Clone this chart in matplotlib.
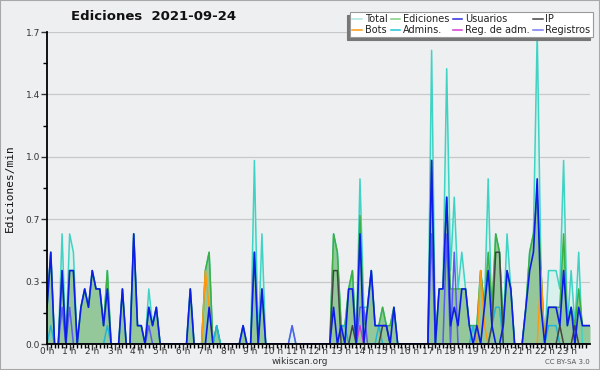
import matplotlib
matplotlib.use("Agg")
import matplotlib.pyplot as plt
import numpy as np
from matplotlib.patches import Rectangle

# ediciones/min por tramo de 10 minutos, una fila por hora
total = [
    0.2, 0.5, 0, 0, 0.6, 0,
    0.6, 0.5, 0, 0.2, 0.3, 0.2,
    0.4, 0.3, 0.3, 0.1, 0.4, 0,
    0, 0, 0.3, 0, 0, 0.6,
    0.1, 0.1, 0, 0.3, 0.1, 0.2,
    0, 0, 0, 0, 0, 0,
    0, 0, 0.3, 0, 0, 0,
    0.4, 0.5, 0, 0.1, 0, 0,
    0, 0, 0, 0, 0.1, 0,
    0, 1.0, 0, 0.6, 0, 0,
    0, 0, 0, 0, 0, 0.1,
    0, 0, 0, 0, 0, 0,
    0, 0, 0, 0, 0.6, 0.5,
    0.1, 0.1, 0.3, 0.4, 0, 0.9,
    0.2, 0.2, 0.4, 0.1, 0.1, 0.2,
    0.1, 0.1, 0.2, 0, 0, 0,
    0, 0, 0, 0, 0, 0,
    1.6, 0, 0.3, 0.3, 1.5, 0.4,
    0.8, 0.3, 0.5, 0.3, 0.1, 0.1,
    0.1, 0.4, 0.2, 0.9, 0.1, 0.6,
    0.5, 0.1, 0.6, 0.3, 0, 0,
    0, 0.2, 0.5, 0.6, 1.7, 0.4,
    0, 0.4, 0.4, 0.4, 0.3, 1.0,
    0.1, 0.4, 0.1, 0.5, 0, 0,
]

ediciones = [
    0.2, 0.5, 0, 0, 0.4, 0,
    0.4, 0.4, 0, 0.2, 0.3, 0.2,
    0.4, 0.3, 0.3, 0.1, 0.4, 0,
    0, 0, 0.3, 0, 0, 0.6,
    0.1, 0.1, 0, 0.2, 0.1, 0.2,
    0, 0, 0, 0, 0, 0,
    0, 0, 0.3, 0, 0, 0,
    0.4, 0.5, 0, 0.1, 0, 0,
    0, 0, 0, 0, 0.1, 0,
    0, 0.5, 0, 0.3, 0, 0,
    0, 0, 0, 0, 0, 0,
    0, 0, 0, 0, 0, 0,
    0, 0, 0, 0, 0.6, 0.5,
    0.1, 0.1, 0.3, 0.4, 0, 0.7,
    0.1, 0.2, 0.4, 0.1, 0.1, 0.2,
    0.1, 0.1, 0.2, 0, 0, 0,
    0, 0, 0, 0, 0, 0,
    1.0, 0, 0.3, 0.3, 0.8, 0.3,
    0.3, 0.3, 0.3, 0.3, 0.1, 0.1,
    0.1, 0.4, 0.2, 0.5, 0.2, 0.6,
    0.5, 0.1, 0.4, 0.3, 0, 0,
    0, 0.2, 0.5, 0.6, 0.8, 0.4,
    0, 0.2, 0.2, 0.2, 0.2, 0.6,
    0.1, 0.2, 0.1, 0.3, 0.1, 0.1,
]

usuarios = [
    0.2, 0.5, 0, 0, 0.4, 0,
    0.4, 0.4, 0, 0.2, 0.3, 0.2,
    0.4, 0.3, 0.3, 0.1, 0.3, 0,
    0, 0, 0.3, 0, 0, 0.6,
    0.1, 0.1, 0, 0.2, 0.1, 0.2,
    0, 0, 0, 0, 0, 0,
    0, 0, 0.3, 0, 0, 0,
    0, 0.2, 0, 0, 0, 0,
    0, 0, 0, 0, 0.1, 0,
    0, 0.5, 0, 0.3, 0, 0,
    0, 0, 0, 0, 0, 0,
    0, 0, 0, 0, 0, 0,
    0, 0, 0, 0, 0.2, 0,
    0.1, 0, 0.3, 0.3, 0, 0.6,
    0, 0.2, 0.4, 0.1, 0.1, 0.1,
    0.1, 0, 0.2, 0, 0, 0,
    0, 0, 0, 0, 0, 0,
    1.0, 0, 0.3, 0.3, 0.8, 0.1,
    0.2, 0.1, 0.3, 0.3, 0.1, 0,
    0.1, 0, 0.2, 0.4, 0.1, 0,
    0, 0.1, 0.4, 0.3, 0, 0,
    0, 0.2, 0.4, 0.5, 0.9, 0.2,
    0, 0.2, 0.2, 0.2, 0.1, 0.4,
    0.1, 0.2, 0, 0.2, 0.1, 0.1,
]

# series con pocos valores: indice del tramo y valor
ip_idx = [76, 77, 81, 89, 90, 118, 119, 120, 136, 140]
ip_val = [0.4, 0.4, 0.1, 0.1, 0.1, 0.1, 0.5, 0.5, 0.1, 0.1]
bots_idx = [42, 43, 115, 116, 131]
bots_val = [0.4, 0.2, 0.4, 0.1, 0.4]
admins_idx = [1, 16, 45, 78, 79, 88, 113, 118, 119, 120, 133, 134, 135]
admins_val = [0.1, 0.1, 0.1, 0.1, 0.1, 0.1, 0.1, 0.1, 0.2, 0.2, 0.1, 0.1, 0.1]
regadm_idx = [83]
regadm_val = [0.1]
registros_idx = [4, 6, 27, 65, 83, 84, 102, 106, 108]
registros_val = [0.2, 0.2, 0.1, 0.1, 0.2, 0.2, 0.6, 0.6, 0.5]

horas = [f"{h} h" for h in range(24)]


def completar(idx, val):
    s = np.zeros(144)
    s[idx] = val
    return s


def alargar(s):
    # repite el ultimo tramo hasta las 24 h
    s = np.asarray(s, dtype=float)
    return np.append(s, s[-1])


x = np.arange(145) / 6
fondo = "#eeeff1"

fig = plt.figure(figsize=(6, 3.7), dpi=100, facecolor=fondo)
ax = fig.add_axes([47 / 600, 1 - 344 / 370, 543 / 600, 312 / 370])
ax.set_facecolor(fondo)

t = alargar(total)
e = alargar(ediciones)
ax.fill_between(x, t, color="#d9f1ec", lw=0, zorder=1)
ax.fill_between(x, e, color="#94c89a", lw=0, zorder=1.2)
ax.plot(x, t, color="#3ed3c3", lw=1.1, zorder=2)
ax.plot(x, e, color="#3cb043", lw=1.1, zorder=2.1)
ax.plot(x, alargar(completar(admins_idx, admins_val)), color="#22b5d8", lw=1.1, zorder=2.2)
ax.plot(x, alargar(completar(bots_idx, bots_val)), color="#ff9a10", lw=1.1, zorder=2.3)
ax.plot(x, alargar(completar(ip_idx, ip_val)), color="#444444", lw=1.1, zorder=2.4)
ax.plot(x, alargar(completar(regadm_idx, regadm_val)), color="#d63ad6", lw=1.1, zorder=2.5)
ax.plot(x, alargar(completar(registros_idx, registros_val)), color="#5b5bf0", lw=1.1, zorder=2.6)
ax.plot(x, alargar(usuarios), color="#0d1de8", lw=1.2, zorder=2.7)

ax.set_xlim(0, 24)
ax.set_ylim(0, 1.7001)
ax.set_xticks(range(24))
ax.set_xticklabels(horas)
ax.set_xticks(np.arange(0, 24, 1 / 6), minor=True)
yt = np.round(np.arange(6) * 0.34, 2)
ax.set_yticks(yt)
ax.set_yticklabels([f"{v:.1f}" for v in yt])
ax.set_yticks(yt[:-1] + 0.17, minor=True)
ax.tick_params(axis="both", which="major", length=4, width=1, labelsize=6.5,
               colors="#333333", pad=1)
ax.tick_params(axis="both", which="minor", length=3, width=1)
ax.tick_params(axis="x", which="major", pad=-2)
ax.set_axisbelow(True)
ax.yaxis.grid(True, color="#c8c8c8", lw=0.9)

for lado in ["top", "right"]:
    ax.spines[lado].set_visible(False)
for lado in ["left", "bottom"]:
    ax.spines[lado].set_linewidth(1.3)
    ax.spines[lado].set_zorder(5)

fig.text(154 / 600, 1 - 17 / 370, "Ediciones  2021-09-24", ha="center", va="center",
         fontsize=9.5, fontweight="bold", color="#111111")
fig.text(10 / 600, 1 - 188 / 370, "Ediciones/min", rotation=90, ha="center", va="center",
         fontsize=8, family="DejaVu Sans Mono", color="#111111")
fig.text(300 / 600, 1 - 362 / 370, "wikiscan.org", ha="center", va="center",
         fontsize=6.5, color="#333333")
fig.text(590 / 600, 1 - 362 / 370, "CC BY-SA 3.0", ha="right", va="center",
         fontsize=5, color="#555555")

# leyenda en 4 columnas
nombres = ["Total", "Bots", "Ediciones", "Admins.", "Usuarios", "Reg. de adm.", "IP", "Registros"]
colores = ["#a9e6df", "#ff9a10", "#7fd07f", "#22c5d8", "#2b2bdc", "#d63ad6", "#444444", "#7b7bf0"]
manijas = [plt.Line2D([], [], color=c, lw=1.1) for c in colores]
leg = fig.legend(manijas, nombres, ncol=4, loc="upper right",
                 bbox_to_anchor=(593 / 600, 1 - 12 / 370), borderaxespad=0,
                 fontsize=7.0, handlelength=1.0, handletextpad=0.3, columnspacing=0.3,
                 labelspacing=0.05, borderpad=0.25, fancybox=False, framealpha=1,
                 edgecolor="#9a9a9a",
                 shadow={"ox": -2.2, "oy": -2.2, "color": "#777777", "alpha": 1})
leg.get_frame().set_linewidth(0.8)
for txt in leg.get_texts():
    txt.set_color("#222222")

fig.add_artist(Rectangle((0, 0), 1, 1, transform=fig.transFigure, fill=False,
                         edgecolor="#a8a8a8", lw=1.5))

fig.savefig("out.png", dpi=100, facecolor=fondo)
